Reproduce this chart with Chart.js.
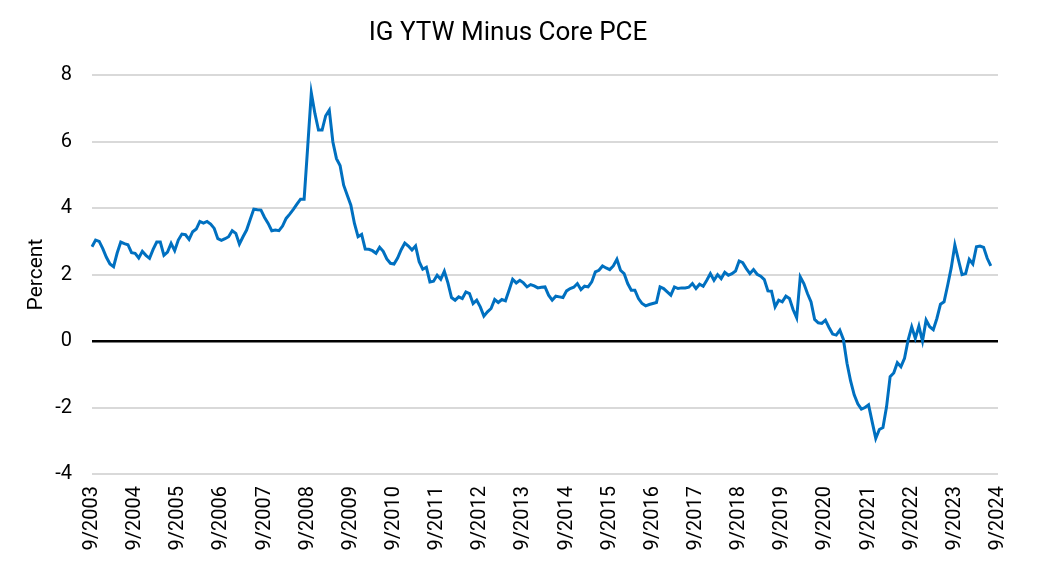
<!DOCTYPE html>
<html lang="en">
<head>
  <meta charset="UTF-8" />
  <title>IG YTW Minus Core PCE</title>
  <script src="https://cdn.jsdelivr.net/npm/chart.js"></script>
  <style>
    body {
      margin: 0;
      background: #fff;
    }

    #wrap {
      width: 1053px;
      height: 566px;
    }
  </style>
</head>
<body>
  <div id="wrap"><canvas id="spreadChart"></canvas></div>

  <script>
    // monthly observations start 9/2003, axis runs to 9/2024
    const firstYear = 2003;
    const firstMonth = 9;
    const axisMonths = 253;

    const yearTicks = [
      '9/2003', '9/2004', '9/2005', '9/2006', '9/2007', '9/2008', '9/2009', '9/2010',
      '9/2011', '9/2012', '9/2013', '9/2014', '9/2015', '9/2016', '9/2017', '9/2018',
      '9/2019', '9/2020', '9/2021', '9/2022', '9/2023', '9/2024'
    ];

    // IG yield-to-worst minus core PCE, percent (one row per Sep..Aug year)
    const ytwMinusPce = [
      2.84, 3.04, 3.00, 2.78, 2.52, 2.32, 2.24, 2.65, 2.98, 2.93, 2.90, 2.66,
      2.64, 2.50, 2.70, 2.58, 2.49, 2.76, 2.98, 2.98, 2.58, 2.68, 2.94, 2.72,
      3.04, 3.22, 3.20, 3.06, 3.29, 3.37, 3.60, 3.55, 3.60, 3.52, 3.39, 3.08,
      3.03, 3.08, 3.14, 3.32, 3.24, 2.92, 3.14, 3.34, 3.66, 3.97, 3.95, 3.94,
      3.72, 3.54, 3.32, 3.34, 3.32, 3.46, 3.69, 3.82, 3.96, 4.12, 4.27, 4.27,
      5.85, 7.47, 6.85, 6.35, 6.35, 6.78, 6.95, 5.99, 5.49, 5.28, 4.69, 4.39,
      4.09, 3.54, 3.14, 3.21, 2.77, 2.76, 2.72, 2.64, 2.82, 2.70, 2.47, 2.34,
      2.32, 2.50, 2.75, 2.95, 2.86, 2.74, 2.86, 2.39, 2.16, 2.22, 1.78, 1.80,
      1.98, 1.86, 2.10, 1.75, 1.31, 1.23, 1.33, 1.28, 1.48, 1.43, 1.13, 1.23,
      1.03, 0.75, 0.88, 0.98, 1.25, 1.16, 1.25, 1.21, 1.53, 1.86, 1.75, 1.83,
      1.75, 1.63, 1.70, 1.66, 1.60, 1.62, 1.63, 1.38, 1.23, 1.35, 1.33, 1.31,
      1.51, 1.58, 1.62, 1.73, 1.55, 1.65, 1.63, 1.78, 2.08, 2.13, 2.26, 2.20,
      2.15, 2.26, 2.46, 2.13, 2.03, 1.73, 1.53, 1.53, 1.28, 1.13, 1.06, 1.10,
      1.13, 1.16, 1.63, 1.58, 1.48, 1.38, 1.63, 1.58, 1.60, 1.60, 1.62, 1.73,
      1.58, 1.71, 1.65, 1.83, 2.03, 1.83, 2.00, 1.88, 2.07, 1.98, 2.03, 2.11,
      2.41, 2.36, 2.18, 2.03, 2.15, 2.01, 1.95, 1.85, 1.51, 1.50, 1.03, 1.23,
      1.18, 1.35, 1.28, 0.95, 0.70, 1.93, 1.73, 1.43, 1.18, 0.65, 0.55, 0.53,
      0.63, 0.41, 0.21, 0.18, 0.33, 0.05, -0.67, -1.20, -1.62, -1.89, -2.05, -2.00,
      -1.92, -2.43, -2.93, -2.66, -2.60, -1.98, -1.07, -0.96, -0.65, -0.77, -0.52, 0.03,
      0.43, 0.08, 0.45, 0.00, 0.63, 0.43, 0.34, 0.68, 1.11, 1.18, 1.68, 2.21,
      2.89, 2.44, 2.00, 2.03, 2.46, 2.32, 2.84, 2.86, 2.82, 2.49, 2.26
    ];

    const monthLabels = [];
    for (let i = 0; i < axisMonths; i++) {
      const m = (firstMonth - 1 + i) % 12 + 1;
      const y = firstYear + Math.floor((firstMonth - 1 + i) / 12);
      monthLabels.push(m + '/' + y);
    }

    const FONT = 'Roboto, "Noto Sans", Arial, sans-serif';

    const ctx = document.getElementById('spreadChart').getContext('2d');
    new Chart(ctx, {
      type: 'line',
      data: {
        labels: monthLabels,
        datasets: [{
          label: 'IG YTW Minus Core PCE',
          data: ytwMinusPce,
          borderColor: '#0070c0',
          borderWidth: 3,
          pointRadius: 0,
          tension: 0,
          fill: false
        }]
      },
      options: {
        responsive: true,
        maintainAspectRatio: false,
        animation: false,
        layout: {
          padding: { left: 18, right: 55, top: 0, bottom: 0 }
        },
        plugins: {
          legend: { display: false },
          tooltip: { enabled: false },
          title: {
            display: true,
            text: 'IG YTW Minus Core PCE',
            color: '#000',
            font: { family: FONT, size: 26, weight: 'normal' },
            padding: { top: 18, bottom: 26 }
          }
        },
        scales: {
          x: {
            grid: { display: false, drawTicks: false },
            border: { display: false },
            ticks: {
              autoSkip: false,
              maxRotation: 90,
              minRotation: 90,
              padding: 12,
              color: '#000',
              font: { family: FONT, size: 20 },
              callback: function (val) {
                const lbl = this.getLabelForValue(val);
                return yearTicks.includes(lbl) ? lbl : null;
              }
            },
            afterFit: (s) => { s.height = 92; }
          },
          y: {
            min: -4,
            max: 8,
            border: { display: false },
            grid: {
              drawTicks: false,
              color: (c) => c.tick && c.tick.value === 0 ? '#000' : '#d9d9d9',
              lineWidth: (c) => c.tick && c.tick.value === 0 ? 2.5 : 2
            },
            ticks: {
              stepSize: 2,
              padding: 20,
              color: '#000',
              font: { family: FONT, size: 20 }
            },
            title: {
              display: true,
              text: 'Percent',
              color: '#000',
              font: { family: FONT, size: 21 },
              padding: { top: 6, bottom: 0 }
            },
            afterFit: (s) => { s.width = 74; }
          }
        }
      }
    });
  </script>
</body>
</html>
